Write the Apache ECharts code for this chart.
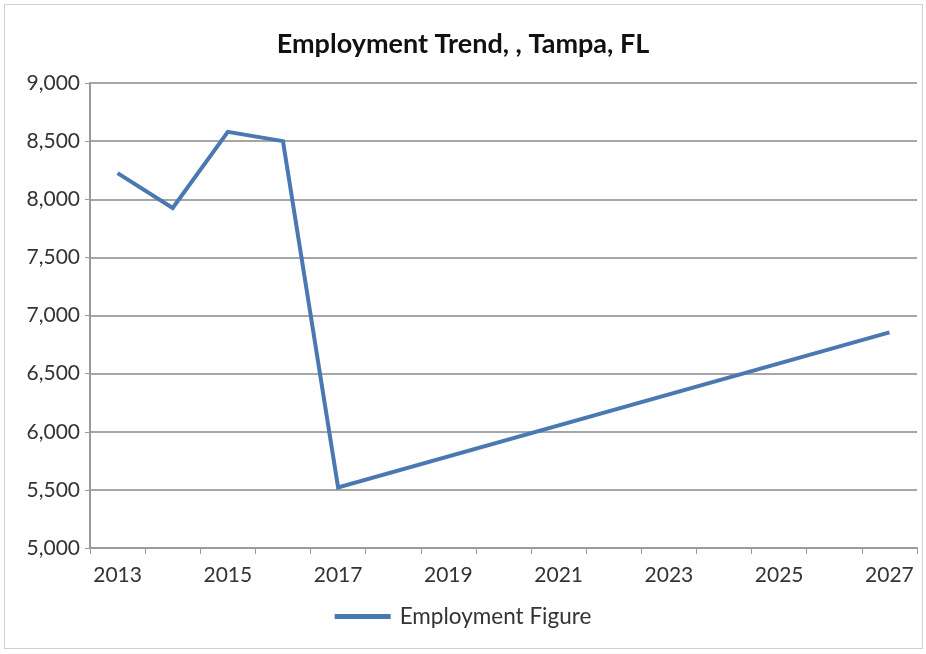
<!DOCTYPE html>
<html>
<head>
<meta charset="utf-8">
<script src="https://cdn.jsdelivr.net/npm/echarts@6/dist/echarts.min.js"></script>
<style>
  html, body { margin: 0; padding: 0; background: #fff; }
  #frame { position: absolute; left: 4px; top: 4px; width: 919px; height: 645px; border: 1px solid #d0d0d0; box-sizing: border-box; }
  #chart { position: absolute; left: 0; top: 0; width: 926px; height: 654px; }
</style>
</head>
<body>
<div id="frame"></div>
<div id="chart"></div>
<script>
// Yearly categories on the horizontal axis
const years = ['2013', '2014', '2015', '2016', '2017', '2018', '2019', '2020',
               '2021', '2022', '2023', '2024', '2025', '2026', '2027'];
// Employment counts; years without a figure are left empty and bridged
const employment = [8225, 7925, 8580, 8500, 5520, null, null, null,
                    null, null, null, null, null, null, 6855];
const seriesName = 'Employment Figure';
const chartTitle = 'Employment Trend, , Tampa, FL';

const font = 'Lato, "Open Sans", "Liberation Sans", sans-serif';
const chart = echarts.init(document.getElementById('chart'), null, { renderer: 'canvas' });

chart.setOption({
  backgroundColor: 'transparent',
  animation: false,
  title: {
    text: chartTitle,
    left: 'center',
    top: 26,
    textStyle: { fontFamily: font, fontSize: 27, fontWeight: 'bold', color: '#111' }
  },
  legend: {
    top: 600,
    left: 'center',
    itemWidth: 56,
    itemHeight: 5,
    itemGap: 10,
    icon: 'rect',
    textStyle: { fontFamily: font, fontSize: 22.5, color: '#333', padding: [0, 0, 0, 4] },
    data: [seriesName]
  },
  grid: { left: 90, right: 9, top: 83, bottom: 106, containLabel: false },
  xAxis: {
    type: 'category',
    data: years,
    boundaryGap: true,
    axisLine: { lineStyle: { color: '#9a9a9a', width: 2 } },
    axisTick: { show: true, interval: 0, length: 6, lineStyle: { color: '#9a9a9a', width: 1 } },
    axisLabel: { interval: 1, margin: 17, fontFamily: font, fontSize: 21, color: '#333' },
    splitLine: { show: false }
  },
  yAxis: {
    type: 'value',
    min: 5000,
    max: 9000,
    interval: 500,
    axisLine: { show: true, lineStyle: { color: '#9a9a9a', width: 2 } },
    axisTick: { show: true, length: 5, lineStyle: { color: '#9a9a9a' } },
    axisLabel: {
      margin: 10,
      fontFamily: font, fontSize: 21, color: '#333',
      formatter: v => v.toLocaleString('en-US')
    },
    splitLine: { lineStyle: { color: '#a6a6a6', width: 2 } }
  },
  series: [{
    name: seriesName,
    type: 'line',
    data: employment,
    connectNulls: true,
    symbol: 'none',
    lineStyle: { color: '#4a78b0', width: 4, join: 'miter' },
    itemStyle: { color: '#4a78b0' }
  }]
});
</script>
</body>
</html>
